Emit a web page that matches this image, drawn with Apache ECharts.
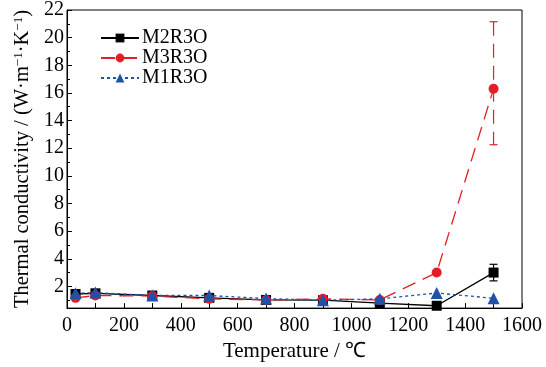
<!DOCTYPE html>
<html>
<head>
<meta charset="utf-8">
<script src="https://cdn.jsdelivr.net/npm/echarts@6/dist/echarts.min.js"></script>
<style>html,body{margin:0;padding:0;background:#fff}#c{width:546px;height:367px}</style>
</head>
<body>
<div id="c"></div>
<script>
const temps = [30, 100, 300, 500, 700, 900, 1100, 1300, 1500];
const m2r3o = [1.45, 1.5, 1.34, 1.17, 1.02, 1.0, 0.79, 0.6, 3.0];
const m3r3o = [1.17, 1.34, 1.3, 1.1, 1.02, 1.1, 1.02, 3.0, 16.3];
const m1r3o = [1.5, 1.55, 1.34, 1.34, 1.12, 1.0, 1.1, 1.52, 1.14];
const m2r3oErrUp = [0, 0, 0, 0, 0, 0, 0, 0, 0.6];
const m2r3oErrDown = [0, 0, 0, 0, 0, 0, 0, 0, 0.6];
const m3r3oErrUp = [0, 0, 0, 0, 0, 0, 0, 0, 4.85];
const m3r3oErrDown = [0, 0, 0, 0, 0, 0, 0, 0, 4.05];
const yTickLabels = [2, 4, 6, 8, 10, 12, 14, 16, 18, 20, 22];
const yMinorTicks = [1, 3, 5, 7, 9, 11, 13, 15, 17, 19, 21];

const FONT = 'Liberation Serif';
const BLACK = '#000000', RED = '#e31e26', BLUE = '#2151a6';

function pairs(vals) { return temps.map((t, i) => [t, vals[i]]); }
function errData(vals, up, down) {
  const out = [];
  temps.forEach((t, i) => { if (up[i] > 0 || down[i] > 0) out.push([t, vals[i] - down[i], vals[i] + up[i]]); });
  return out;
}
function errSeries(vals, up, down, color, dash) {
  return {
    type: 'custom',
    data: errData(vals, up, down),
    encode: { x: 0, y: [1, 2] },
    z: 1,
    silent: true,
    renderItem: function (params, api) {
      const x = api.value(0);
      const lo = api.coord([x, api.value(1)]);
      const hi = api.coord([x, api.value(2)]);
      const w = 4;
      const style = { stroke: color, lineWidth: 1.2, lineDash: dash };
      const capStyle = { stroke: color, lineWidth: 1.2 };
      return {
        type: 'group',
        children: [
          { type: 'line', shape: { x1: hi[0], y1: hi[1], x2: lo[0], y2: lo[1] }, style: style },
          { type: 'line', shape: { x1: hi[0] - w, y1: hi[1], x2: hi[0] + w, y2: hi[1] }, style: capStyle },
          { type: 'line', shape: { x1: lo[0] - w, y1: lo[1], x2: lo[0] + w, y2: lo[1] }, style: capStyle }
        ]
      };
    }
  };
}

const chart = echarts.init(document.getElementById('c'));
chart.setOption({
  animation: false,
  backgroundColor: '#fff',
  textStyle: { fontFamily: FONT },
  grid: { left: 67, right: 24, top: 9, bottom: 56, show: true, borderColor: '#000', borderWidth: 1, backgroundColor: 'transparent' },
  legend: {
    orient: 'vertical', left: 95, top: 23, itemWidth: 38, itemHeight: 11, itemGap: 0,
    textStyle: { fontFamily: FONT, fontSize: 20, color: '#000', padding: [0, 0, 0, -2] },
    data: ['M2R3O', 'M3R3O', 'M1R3O']
  },
  xAxis: {
    type: 'value', min: 0, max: 1600, interval: 200,
    name: 'Temperature / ℃', nameLocation: 'middle', nameGap: 30,
    nameTextStyle: { fontFamily: FONT, fontSize: 21, color: '#000' },
    axisLine: { show: true, lineStyle: { color: '#000', width: 1 } },
    axisTick: { show: true, inside: true, length: 5, lineStyle: { color: '#000' } },
    minorTick: { show: true, splitNumber: 2, length: 5, lineStyle: { color: '#000' } },
    axisLabel: { fontFamily: FONT, fontSize: 20, color: '#000', margin: 8, formatter: function (v) { return String(v); } },
    splitLine: { show: false }
  },
  yAxis: [{
    type: 'value', min: 0.43, max: 22,
    name: 'Thermal conductivity / (W·m{s|−1}·K{s|−1})', nameLocation: 'middle', nameGap: 33,
    nameTextStyle: { fontFamily: FONT, fontSize: 20.5, color: '#000', rich: { s: { fontFamily: FONT, fontSize: 13, color: '#000', verticalAlign: 'top', padding: [0, 0, 8, 0] } } },
    axisLine: { show: true, onZero: false, lineStyle: { color: '#000', width: 1 } },
    axisTick: { show: true, inside: true, length: 5, customValues: yTickLabels, lineStyle: { color: '#000' } },
    axisLabel: { fontFamily: FONT, fontSize: 20, color: '#000', margin: 3, customValues: yTickLabels, formatter: function (v) { return String(v); } },
    splitLine: { show: false }
  }, {
    type: 'value', min: 0.43, max: 22, position: 'left',
    axisLine: { show: false },
    axisTick: { show: true, inside: true, length: 3, customValues: yMinorTicks, lineStyle: { color: '#000' } },
    axisLabel: { show: false },
    splitLine: { show: false }
  }],
  series: [
    {
      name: 'M2R3O', type: 'line', data: pairs(m2r3o), z: 3,
      symbol: 'rect', symbolSize: 10,
      itemStyle: { color: BLACK }, lineStyle: { color: BLACK, width: 1.3, type: 'solid' }
    },
    {
      name: 'M3R3O', type: 'line', data: pairs(m3r3o), z: 3,
      symbol: 'circle', symbolSize: 10,
      itemStyle: { color: RED }, lineStyle: { color: RED, width: 1.3, type: [14, 8] }
    },
    {
      name: 'M1R3O', type: 'line', data: pairs(m1r3o), z: 4,
      symbol: 'triangle', symbolSize: 12,
      itemStyle: { color: BLUE }, lineStyle: { color: BLUE, width: 1.3, type: [3, 3] }
    },
    errSeries(m2r3o, m2r3oErrUp, m2r3oErrDown, BLACK, null),
    errSeries(m3r3o, m3r3oErrUp, m3r3oErrDown, RED, [14, 8])
  ]
});
</script>
</body>
</html>
